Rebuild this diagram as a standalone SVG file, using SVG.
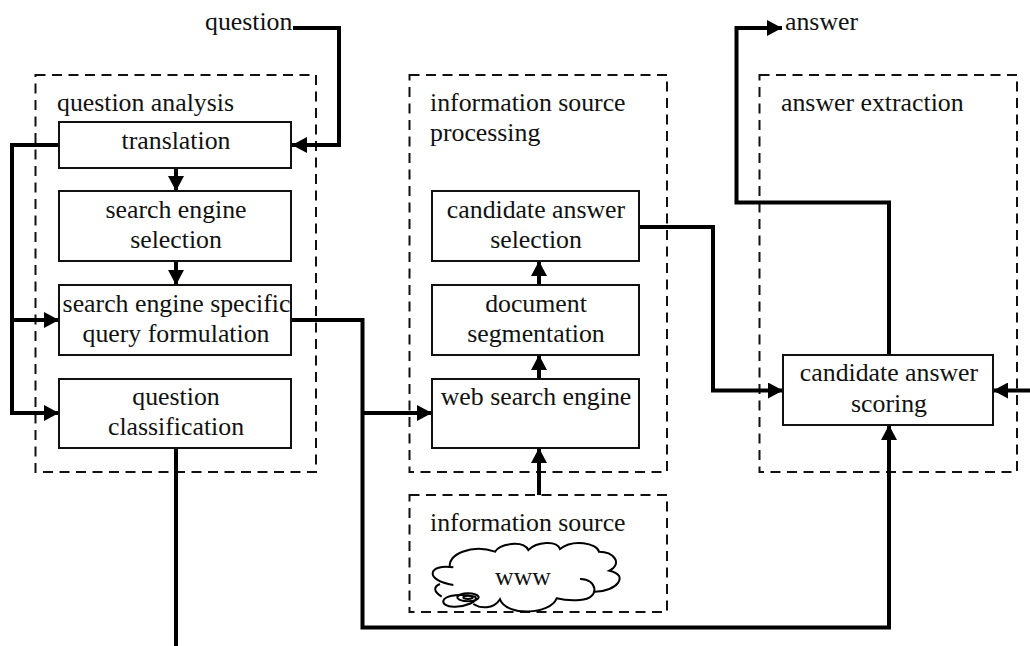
<svg xmlns="http://www.w3.org/2000/svg" width="1030" height="646" viewBox="0 0 1030 646">
<style>
text{font-family:"Liberation Serif","Times New Roman",serif;font-size:25.8px;fill:#111}
.m{text-anchor:middle}
.b{fill:#fff;stroke:#111;stroke-width:2}
.d{fill:none;stroke:#111;stroke-width:2;stroke-dasharray:10 6.5}
.c{fill:none;stroke:#000;stroke-width:4}
.a{marker-end:url(#ah)}
.o{fill:none;stroke:#000;stroke-width:6}
</style>
<defs><marker id="ah" markerUnits="userSpaceOnUse" markerWidth="15" markerHeight="16" refX="15" refY="8" orient="auto"><path d="M0,0L15,8L0,16z" fill="#000"/></marker></defs>
<rect width="1030" height="646" fill="#fff"/>
<g id="question-analysis"><rect class="d" x="35.5" y="75" width="280.500" height="397"/><text x="57" y="111">question analysis</text></g>
<g id="information-source-processing"><rect class="d" x="409.500" y="75" width="257.500" height="397"/><text x="430" y="111">information source</text><text x="430" y="141">processing</text></g>
<g id="answer-extraction"><rect class="d" x="759.500" y="75" width="257.500" height="397"/><text x="781" y="111">answer extraction</text></g>
<g id="information-source"><rect class="d" x="409.500" y="495" width="257.500" height="117"/><text x="430" y="531">information source</text>
<g transform="translate(400 480) scale(.33333)">
<path class="o" d="M150,262C140,225 215,190 285,215C300,190 370,180 385,210C410,185 470,180 480,207C520,175 590,190 597,215C640,215 670,250 628,272C690,285 650,335 585,335"/>
<path class="o" d="M540,297C590,295 605,355 540,360C515,362 490,360 470,355C450,405 320,410 300,358C280,390 240,385 220,372"/>
<path class="o" d="M160,262C85,250 70,300 160,315"/>
<path class="o" d="M125,350C100,335 100,320 120,312"/>
<path class="o" d="M130,362C135,345 190,340 225,350C240,365 190,382 160,380C140,380 128,372 130,362Z"/>
<ellipse class="o" cx="204" cy="352" rx="32" ry="12"/>
<ellipse class="o" cx="204" cy="352" rx="14" ry="5"/>
</g>
<text class="m" x="523" y="585">www</text></g>
<g id="connectors">
<path class="c a" d="M293,28H339V145H292"/>
<path class="c a" d="M59,145H12V413H59"/>
<path class="c a" d="M12,320H59"/>
<path class="c a" d="M176,168V191"/>
<path class="c a" d="M176,262V285"/>
<path class="c" d="M176,448V646"/>
<path class="c a" d="M291,320H362.500V627.500H889V425"/>
<path class="c a" d="M362.500,413H432"/>
<path class="c a" d="M539,495V448"/>
<path class="c a" d="M539,379V355"/>
<path class="c a" d="M539,285V261"/>
<path class="c a" d="M639,227H713V390.500H783"/>
<path class="c a" d="M889,355V202.500H736.500V28H782"/>
<path class="c a" d="M1030,390.500H993"/>
</g>
<g id="translation"><rect class="b" x="59" y="122" width="232" height="46"/><text class="m" x="176" y="149">translation</text></g>
<g id="search-engine-selection"><rect class="b" x="59" y="191" width="232" height="70"/><text class="m" x="176" y="218">search engine</text><text class="m" x="176" y="248">selection</text></g>
<g id="query-formulation"><rect class="b" x="59" y="285" width="232" height="70"/><text class="m" x="176.500" y="312">search engine specific</text><text class="m" x="176" y="342">query formulation</text></g>
<g id="question-classification"><rect class="b" x="59" y="379" width="232" height="69"/><text class="m" x="176" y="405">question</text><text class="m" x="176" y="435">classification</text></g>
<g id="candidate-answer-selection"><rect class="b" x="432" y="191" width="207" height="70"/><text class="m" x="536" y="218">candidate answer</text><text class="m" x="536" y="248">selection</text></g>
<g id="document-segmentation"><rect class="b" x="432" y="285" width="207" height="70"/><text class="m" x="536" y="312">document</text><text class="m" x="536" y="342">segmentation</text></g>
<g id="web-search-engine"><rect class="b" x="432" y="379" width="207" height="69"/><text class="m" x="536" y="405">web search engine</text></g>
<g id="candidate-answer-scoring"><rect class="b" x="783" y="355" width="210" height="70"/><text class="m" x="889" y="381">candidate answer</text><text class="m" x="889" y="412">scoring</text></g>
<g id="question-label"><text x="205" y="30">question</text></g>
<g id="answer-label"><text x="785" y="30">answer</text></g>
</svg>
